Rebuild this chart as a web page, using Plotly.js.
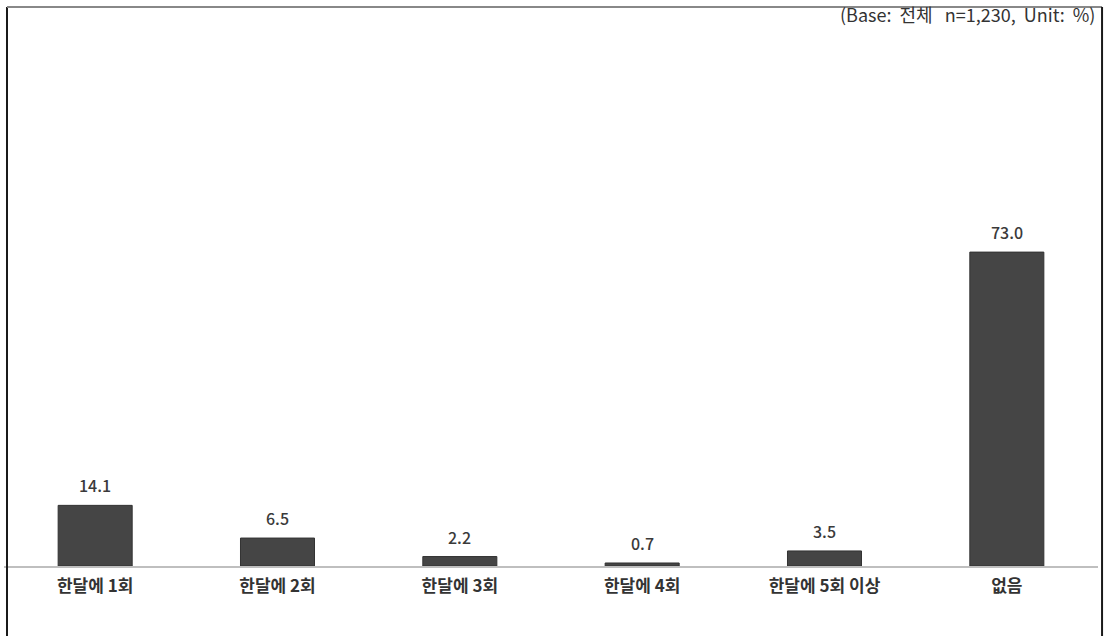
<!DOCTYPE html>
<html>
<head>
<meta charset="utf-8">
<script src="https://cdn.plot.ly/plotly-3.0.1.min.js"></script>
<style>
html,body{margin:0;padding:0;background:#fff;}
#chart{width:1107px;height:636px;}
</style>
</head>
<body>
<div id="chart"></div>
<script>
const categories = ['한달에 1회', '한달에 2회', '한달에 3회', '한달에 4회', '한달에 5회 이상', '없음'];
const values = [14.1, 6.5, 2.2, 0.7, 3.5, 73.0];
const noteText = '(Base:&nbsp; 전체&nbsp;&nbsp; n=1,230,&nbsp; Unit:&nbsp; %)';

const font = '"Noto Sans CJK KR", "Noto Sans", sans-serif';

const trace = {
  type: 'bar',
  x: categories,
  y: values,
  marker: {color: '#454545', line: {color: '#333333', width: 1}},
  hoverinfo: 'none'
};

const valueLabels = categories.map((c, i) => ({
  xref: 'x', yref: 'y',
  x: c, y: values[i],
  yanchor: 'middle',
  yshift: 20,
  text: values[i].toFixed(1),
  showarrow: false,
  font: {family: font, size: 16, color: '#3a3a3a', weight: 500}
}));

const layout = {
  width: 1107,
  height: 636,
  margin: {l: 4, r: 9, t: 50, b: 70},
  paper_bgcolor: '#ffffff',
  plot_bgcolor: '#ffffff',
  showlegend: false,
  bargap: 0.594,
  xaxis: {
    type: 'category',
    showgrid: false,
    zeroline: false,
    showline: true,
    linecolor: '#bfbfbf',
    linewidth: 2,
    ticks: '',
    ticklabelstandoff: 4,
    tickfont: {family: font, size: 17, color: '#333333', weight: 'bold'},
    fixedrange: true
  },
  yaxis: {
    range: [0, 120],
    visible: false,
    showgrid: false,
    zeroline: false,
    fixedrange: true
  },
  annotations: [{
    xref: 'paper', yref: 'paper',
    x: 0.9995, y: 1.069,
    xanchor: 'right', yanchor: 'middle',
    text: noteText,
    showarrow: false,
    font: {family: font, size: 18, color: '#333333', weight: 'normal'}
  }].concat(valueLabels),
  shapes: [
    {type: 'line', xref: 'paper', yref: 'paper', x0: 0.00274, x1: 0.00274, y0: 1.0833, y1: -0.14, line: {color: '#1a1a1a', width: 2}},
    {type: 'line', xref: 'paper', yref: 'paper', x0: 0.00274, x1: 1.0037, y0: 1.0833, y1: 1.0833, line: {color: '#888888', width: 2}},
    {type: 'line', xref: 'paper', yref: 'paper', x0: 1.0037, x1: 1.0037, y0: 1.0833, y1: -0.14, line: {color: '#1a1a1a', width: 2}}
  ]
};

Plotly.newPlot('chart', [trace], layout, {displayModeBar: false, staticPlot: true});
</script>
</body>
</html>
